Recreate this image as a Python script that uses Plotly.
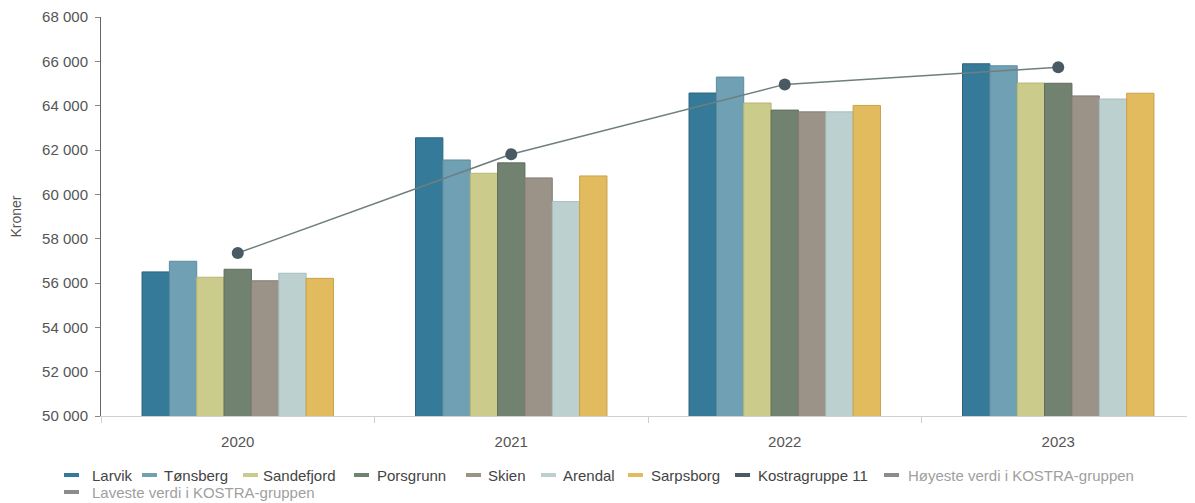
import plotly.graph_objects as go

years = ["2020", "2021", "2022", "2023"]
series_names = ["Larvik", "Tønsberg", "Sandefjord", "Porsgrunn", "Skien", "Arendal", "Sarpsborg"]
larvik = [56500, 62550, 64570, 65890]
tonsberg = [56980, 61550, 65290, 65800]
sandefjord = [56260, 60950, 64120, 65020]
porsgrunn = [56620, 61420, 63800, 65010]
skien = [56100, 60740, 63720, 64440]
arendal = [56440, 59670, 63720, 64300]
sarpsborg = [56210, 60830, 64010, 64560]
kostragruppe = [57350, 61810, 64960, 65730]
y_ticks = [50000, 52000, 54000, 56000, 58000, 60000, 62000, 64000, 66000, 68000]
legend_labels = series_names + ["Kostragruppe 11", "Høyeste verdi i KOSTRA-gruppen",
                                "Laveste verdi i KOSTRA-gruppen"]

values = [larvik, tonsberg, sandefjord, porsgrunn, skien, arendal, sarpsborg]
colors = ["#367a99", "#6fa0b3", "#cbcb8b", "#728270", "#9b9288", "#bcd0d0", "#e2bb5e"]
borders = ["#2c6580", "#5d8c9e", "#b8b874", "#5e6d5c", "#857c72", "#a7bcbc", "#c9a24a"]
legend_colors = colors + ["#4a5a62", "#8c8c8c", "#8c8c8c"]
legend_text_colors = ["#444444"] * 8 + ["#a0a0a0", "#a0a0a0"]

W, H = 1187, 495  # the page adds an 8px body margin
L_M, T_M, B_M = 93, 9, 87
# legend layout in page pixels: (dash start, text start, row centre)
legend_pos = [(64, 92, 475), (142, 164, 475), (243, 263, 475), (354, 377, 475), (466, 488, 475),
              (541, 563, 475), (628, 651, 475), (735, 758, 475), (884, 908, 475), (64, 92, 492)]

plot_w = W - L_M
plot_h = H - T_M - B_M


def px(xp):
    return (xp - 8 - L_M) / plot_w


def py(yp):
    return 1 - (yp - 8 - T_M) / plot_h


fig = go.Figure()
for name, vals, c, b in zip(series_names, values, colors, borders):
    fig.add_trace(go.Bar(x=years, y=vals, name=name, marker=dict(color=c, line=dict(color=b, width=1)),
                         showlegend=False))

fig.add_trace(go.Scatter(x=years, y=kostragruppe, mode="lines+markers", name="Kostragruppe 11",
                         line=dict(color="#6e7f80", width=1.5),
                         marker=dict(color="#4a5a62", size=12), showlegend=False))

for label, col, tcol, (dx, tx, cy) in zip(legend_labels, legend_colors, legend_text_colors, legend_pos):
    fig.add_shape(type="line", xref="paper", yref="paper", x0=px(dx), x1=px(dx + 15),
                  y0=py(cy), y1=py(cy), line=dict(color=col, width=4))
    fig.add_annotation(text=label, xref="paper", yref="paper", x=px(tx - 2), y=py(cy),
                       xanchor="left", yanchor="middle", showarrow=False,
                       font=dict(size=15, color=tcol, family="Liberation Sans, Arial, sans-serif"))

fig.update_layout(
    width=W, height=H,
    margin=dict(l=L_M, r=0, t=T_M, b=B_M, autoexpand=False),
    paper_bgcolor="white", plot_bgcolor="white",
    barmode="group", bargap=0.3, bargroupgap=0,
    separators=", ",
    font=dict(family="Liberation Sans, Arial, sans-serif", size=15, color="#555555"),
    showlegend=False,
)
fig.update_xaxes(type="category", showline=True, linecolor="#d0d0d0", linewidth=1,
                 ticks="outside", tickson="boundaries", tickcolor="#d0d0d0", ticklen=6,
                 ticklabelstandoff=12, automargin=False,
                 tickfont=dict(size=15, color="#555555"), showgrid=False)
fig.update_yaxes(range=[50000, 68000], tickvals=y_ticks, tickformat=",d",
                 showline=True, linecolor="#666666", linewidth=1, ticks="outside", ticklen=5,
                 tickcolor="#888888", showgrid=False, zeroline=False, automargin=False,
                 ticklabelstandoff=4,
                 title=dict(text="Kroner", font=dict(size=14, color="#555555"), standoff=51),
                 tickfont=dict(size=15, color="#555555"))

fig.write_html("out.html")
